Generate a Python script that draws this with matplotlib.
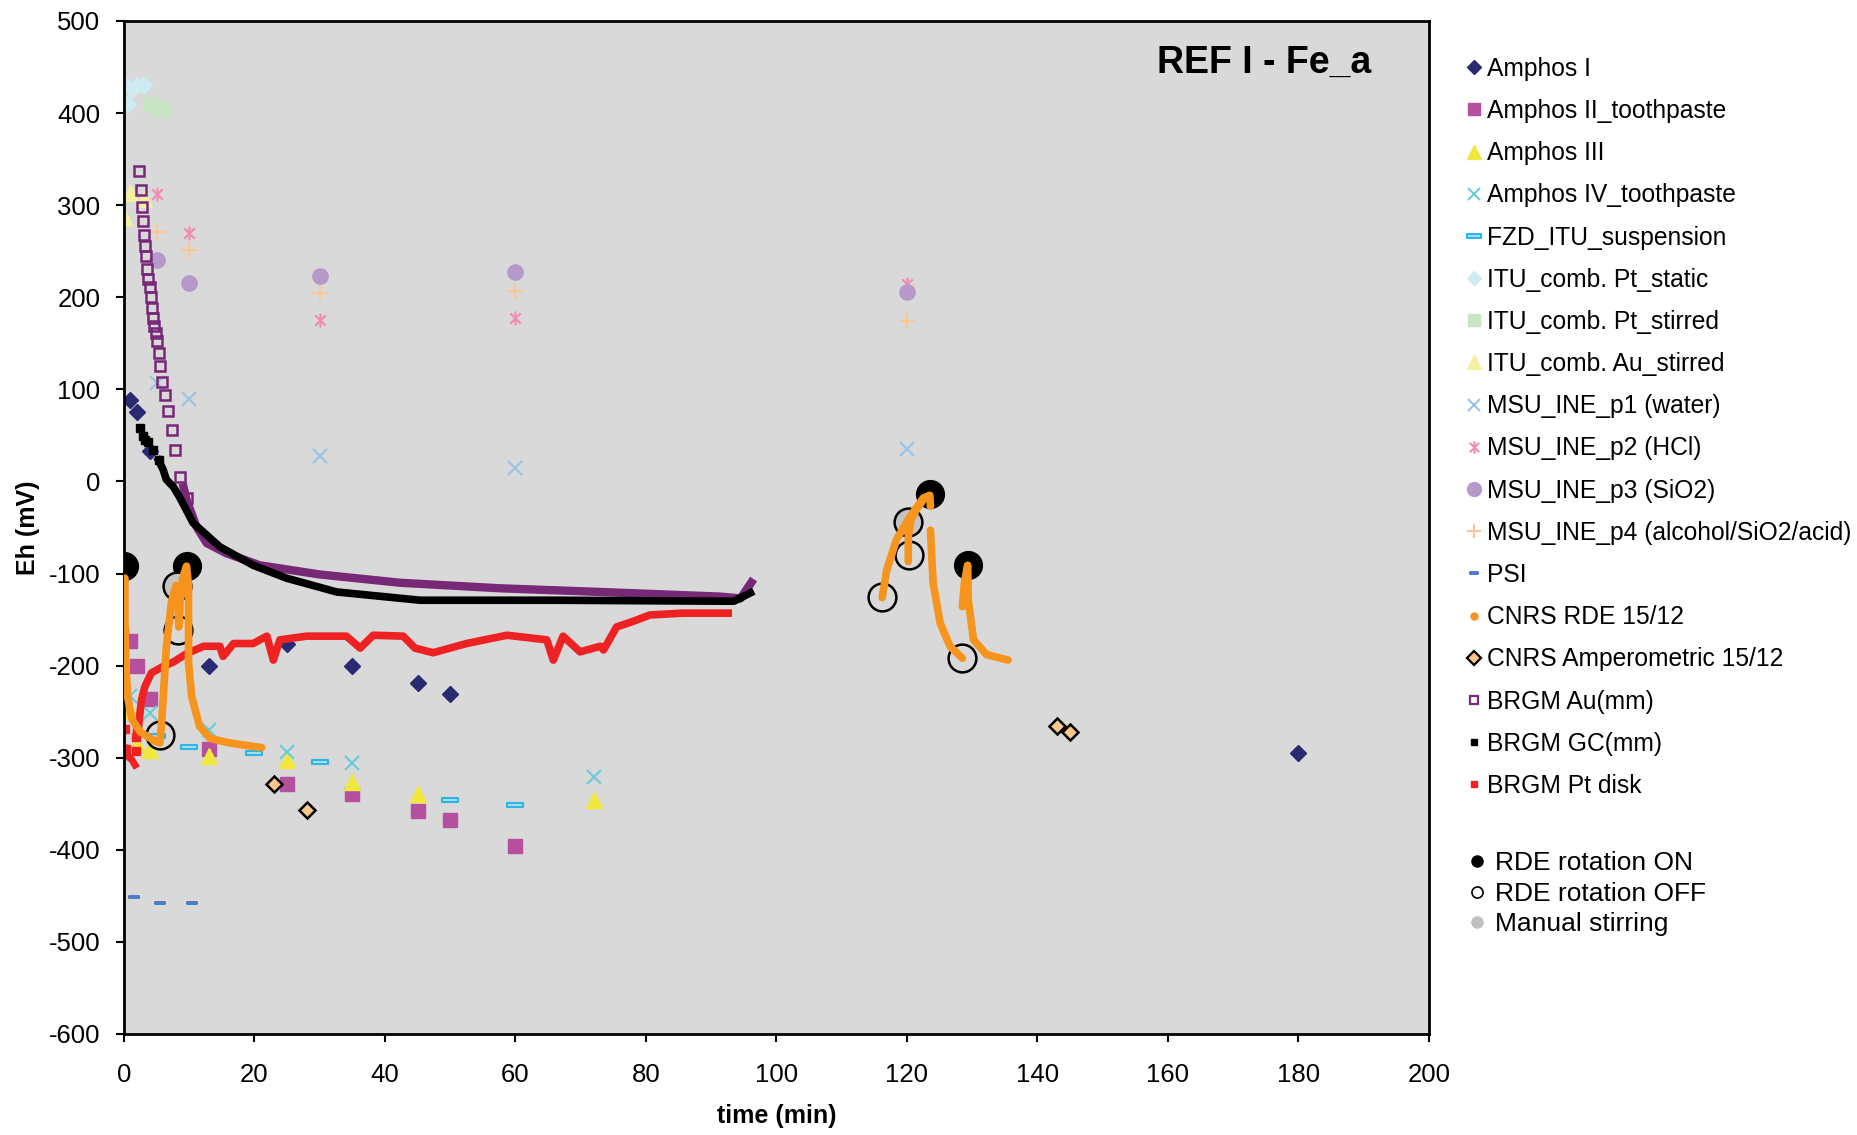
import matplotlib.pyplot as plt
from matplotlib.lines import Line2D
from matplotlib.path import Path

plt.rcParams['font.family'] = ['Liberation Sans', 'DejaVu Sans']
plt.rcParams['axes.unicode_minus'] = False

# ---- data (time in min, Eh in mV) ----
amphos1_t = [1, 2, 4, 13, 25, 35, 45, 50, 180]
amphos1_eh = [88, 75, 33, -200, -176, -200, -219, -231, -295]

amphos2_t = [1, 2, 4, 13, 25, 35, 45, 50, 60]
amphos2_eh = [-173, -200, -236, -290, -328, -339, -358, -368, -396]

amphos3_t = [1, 2, 4, 13, 25, 35, 45, 72]
amphos3_eh = [-249, -285, -292, -298, -302, -326, -339, -346]

amphos4_t = [1, 4, 13, 25, 35, 72]
amphos4_eh = [-233, -251, -270, -294, -306, -321]

fzd_t = [5, 10, 20, 30, 50, 60]
fzd_eh = [-276, -288, -295, -305, -346, -351]

itu_pt_static_t = [0, 0.7, 1.3, 2, 3]
itu_pt_static_eh = [432, 410, 426, 430, 431]

itu_pt_stirred_t = [4, 5, 6]
itu_pt_stirred_eh = [410, 406, 403]

itu_au_stirred_t = [0, 1, 3]
itu_au_stirred_eh = [287, 313, 307]

msu_p1_t = [5, 10, 30, 60, 120]
msu_p1_eh = [107, 90, 28, 15, 35]

msu_p2_t = [5, 10, 30, 60, 120]
msu_p2_eh = [312, 270, 175, 178, 214]

msu_p3_t = [5, 10, 30, 60, 120]
msu_p3_eh = [240, 216, 223, 227, 206]

msu_p4_t = [5, 10, 30, 60, 120]
msu_p4_eh = [271, 251, 205, 207, 174]

psi_t = [1.5, 5.5, 10.5]
psi_eh = [-451, -458, -458]

cnrs_amp_t = [23, 28, 143, 145]
cnrs_amp_eh = [-328, -357, -266, -272]

# CNRS RDE traces (several runs)
rde_runs = [
    ([0.15, 0.15, 0.3, 0.6, 1.2, 2.5, 4.5, 5.5, 5.8, 6.5, 7.3, 8.0, 8.3, 8.4, 8.6, 9.0, 9.6,
      9.9, 9.9, 10.4, 11.6, 13.2, 16.2, 21.1],
     [-105, -150, -200, -235, -258, -272, -281, -284, -260, -180, -130, -113, -130, -158, -130,
      -105, -92, -114, -197, -234, -266, -279, -284, -289]),
    ([116.2, 116.9, 118.4, 120.5, 122.5, 123.5, 123.6],
     [-126, -96, -63, -38, -18, -15, -27]),
    ([120.2, 120.2, 120.6, 121.5, 122.5],
     [-87, -60, -42, -30, -20]),
    ([123.6, 124.0, 125.1, 126.6, 128.5],
     [-53, -110, -154, -179, -192]),
    ([128.5, 128.8, 129.3, 129.4, 130.2, 132.2, 135.5],
     [-136, -110, -91, -129, -172, -188, -194]),
]
rde_on_t = [0, 9.6, 123.6, 129.3]
rde_on_eh = [-92, -92, -14, -91]
rde_off_t = [5.5, 8.3, 116.2, 120.3, 128.5]
rde_off_eh = [-275, -161, -126, -80, -192]
manual_t = [8.1, 120.1]
manual_eh = [-113, -44]

# BRGM Au(mm)
brgm_au_pts_t = [2.35, 2.55, 2.7, 2.86, 3.07, 3.2, 3.37, 3.58, 3.7, 4.0, 4.1, 4.24, 4.5, 4.65,
                 4.85, 5.0, 5.3, 5.5, 5.9, 6.3, 6.8, 7.3, 7.8, 8.6, 9.6]
brgm_au_pts_eh = [337, 317, 298, 283, 268, 256, 245, 231, 220, 211, 200, 188, 178, 169,
                  161, 152, 139, 125, 108, 94, 76, 56, 34, 5, -18]
brgm_au_line_t = [9.0, 9.6, 11.1, 12.7, 15.7, 20.8, 30, 42.3, 57.6, 73, 91.3, 94.5, 96.5]
brgm_au_line_eh = [-2, -20, -49, -67, -78, -91, -101, -110, -116, -120, -125, -127, -106]

# BRGM GC(mm)
brgm_gc_pts_t = [2.45, 2.9, 3.2, 3.7, 4.5, 5.3]
brgm_gc_pts_eh = [58, 49, 45, 43, 34, 23]
brgm_gc_line_t = [5.3, 6.0, 6.5, 7.6, 8.6, 10.6, 14.7, 19.8, 24.9, 32.6, 45.4, 66.8, 91.3, 93.5, 96]
brgm_gc_line_eh = [23, 13, 2, -6, -18, -45, -71, -91, -105, -120, -129, -129, -130, -130, -121]

# BRGM Pt disk
brgm_pt_pts_t = [0, 0.1, 0.2, 0.3, 1.8, 1.9, 2.0]
brgm_pt_pts_eh = [-163, -235, -269, -290, -293, -278, -268]
brgm_pt_tail_t = [0.3, 0.8, 1.2, 1.7]
brgm_pt_tail_eh = [-290, -300, -302, -308]
brgm_pt_line_t = [2.2, 2.35, 2.55, 2.7, 3.2, 4.2, 6, 7.6, 9.6, 12.2, 14.7, 15.2, 16.8, 19.8, 21.9,
                  22.9, 23.9, 28, 34.1, 36.2, 38.2, 42.8, 44.6, 47.4, 52.5, 58.7, 64.8, 65.8,
                  67.3, 69.9, 73, 73.5, 75.5, 78, 80.6, 85.7, 92.6]
brgm_pt_line_eh = [-268, -259, -246, -237, -223, -208, -201, -196, -187, -179, -179, -190, -176,
                   -176, -168, -194, -172, -168, -168, -181, -167, -168, -181, -186, -176, -167,
                   -172, -194, -168, -185, -179, -183, -158, -152, -145, -143, -143]

# ---- colours ----
c_amphos1 = '#2A2A72'
c_amphos2 = '#B4509E'
c_amphos3 = '#F0E83C'
c_amphos4 = '#6CCDD8'
c_fzd = '#2FB4E6'
c_static = '#CDEBF0'
c_stirred = '#C8E6C3'
c_au = '#F5F0A0'
c_p1 = '#9DC3E6'
c_p2 = '#F28CB4'
c_p3 = '#B59AC9'
c_p4 = '#FAC896'
c_psi = '#4472C4'
c_rde = '#F7941D'
c_amp = '#FAC88C'
c_au_brgm = '#772877'
c_pt = '#EE2222'

asterisk = Path([(0, -1), (0, 1), (-0.75, -0.75), (0.75, 0.75), (-0.75, 0.75), (0.75, -0.75)],
                [Path.MOVETO, Path.LINETO, Path.MOVETO, Path.LINETO, Path.MOVETO, Path.LINETO])
dash = Path([(-1, -0.28), (1, -0.28), (1, 0.28), (-1, 0.28), (-1, -0.28)],
            [Path.MOVETO, Path.LINETO, Path.LINETO, Path.LINETO, Path.CLOSEPOLY])

fig = plt.figure(figsize=(18.58, 11.35), dpi=100)
ax = fig.add_axes([0.0667, 0.089, 0.7024, 0.8925])
ax.set_facecolor('#D9D9D9')

ax.plot(amphos1_t, amphos1_eh, 'D', color=c_amphos1, ms=8, zorder=2)
ax.plot(amphos2_t, amphos2_eh, 's', color=c_amphos2, ms=10, zorder=2)
ax.plot(amphos3_t, amphos3_eh, '^', color=c_amphos3, ms=11, zorder=2)
ax.plot(amphos4_t, amphos4_eh, 'x', color=c_amphos4, ms=10, mew=1.6, zorder=2)
ax.plot(fzd_t, fzd_eh, ls='none', marker=dash, ms=11, mfc='#A8E0F5', mec=c_fzd, mew=1.5, zorder=2)
ax.plot(itu_pt_static_t, itu_pt_static_eh, 'D', color=c_static, ms=8, zorder=2)
ax.plot(itu_pt_stirred_t, itu_pt_stirred_eh, 's', color=c_stirred, ms=10, zorder=2)
ax.plot(itu_au_stirred_t, itu_au_stirred_eh, '^', color=c_au, ms=11, zorder=2)
ax.plot(msu_p1_t, msu_p1_eh, 'x', color=c_p1, ms=10, mew=1.6, zorder=2)
ax.plot(msu_p2_t, msu_p2_eh, ls='none', marker=asterisk, ms=10, mfc='none', mec=c_p2, mew=1.6, zorder=2)
ax.plot(msu_p3_t, msu_p3_eh, 'o', color=c_p3, ms=11, zorder=2)
ax.plot(msu_p4_t, msu_p4_eh, '+', color=c_p4, ms=11, mew=1.6, zorder=2)
ax.plot(psi_t, psi_eh, ls='none', marker=dash, ms=7, mfc='#BFD0F0', mec=c_psi, mew=1.3, zorder=2)
ax.plot(cnrs_amp_t, cnrs_amp_eh, 'D', mfc=c_amp, mec='black', ms=8, mew=1.8, zorder=2)

# BRGM
ax.plot(brgm_au_line_t, brgm_au_line_eh, '-', color=c_au_brgm, lw=6, solid_capstyle='butt', zorder=2)
ax.plot(brgm_au_pts_t, brgm_au_pts_eh, 's', mfc='none', mec=c_au_brgm, ms=7, mew=1.8, zorder=2)
ax.plot(brgm_gc_line_t, brgm_gc_line_eh, '-', color='black', lw=5.5, zorder=2.1)
ax.plot(brgm_gc_pts_t, brgm_gc_pts_eh, 's', color='black', ms=6, zorder=2.1)
ax.plot(brgm_pt_line_t, brgm_pt_line_eh, '-', color=c_pt, lw=5.5, zorder=2.2)
ax.plot(brgm_pt_tail_t, brgm_pt_tail_eh, '-', color=c_pt, lw=5, zorder=2.2)
ax.plot(brgm_pt_pts_t, brgm_pt_pts_eh, 's', color=c_pt, ms=6, zorder=2.2)

# CNRS RDE
ax.plot(rde_on_t, rde_on_eh, 'o', color='black', ms=20, zorder=3)
ax.plot(rde_off_t, rde_off_eh, 'o', mfc='none', mec='black', ms=20, mew=1.8, zorder=3)
ax.plot(manual_t, manual_eh, 'o', mfc='#C4C4C4', mec='black', ms=20, mew=1.8, zorder=3)
for run_t, run_eh in rde_runs:
    ax.plot(run_t, run_eh, '-', color=c_rde, lw=5.5, solid_capstyle='round',
            solid_joinstyle='round', zorder=4)

ax.set_xlim(0, 200)
ax.set_ylim(-600, 500)
ax.set_xticks(range(0, 201, 20))
ax.set_yticks(range(-600, 501, 100))
ax.tick_params(direction='out', length=6, width=1.5, labelsize=18.5)
ax.tick_params(axis='x', pad=15)
ax.tick_params(axis='y', pad=11)
for sp in ax.spines.values():
    sp.set_linewidth(2)
ax.set_xlabel('time (min)', fontsize=18, fontweight='bold', labelpad=12)
ax.set_ylabel('Eh (mV)', fontsize=18, fontweight='bold', labelpad=6)
ax.text(0.9556, 0.959, 'REF I - Fe_a', transform=ax.transAxes, ha='right', va='center',
        fontsize=27, fontweight='bold')

# legends
h1 = [
    Line2D([], [], ls='none', marker='D', color=c_amphos1, ms=7),
    Line2D([], [], ls='none', marker='s', color=c_amphos2, ms=9),
    Line2D([], [], ls='none', marker='^', color=c_amphos3, ms=10),
    Line2D([], [], ls='none', marker='x', color=c_amphos4, ms=9, mew=1.5),
    Line2D([], [], ls='none', marker=dash, ms=10, mfc='#A8E0F5', mec=c_fzd, mew=1.5),
    Line2D([], [], ls='none', marker='D', color=c_static, ms=7),
    Line2D([], [], ls='none', marker='s', color=c_stirred, ms=9),
    Line2D([], [], ls='none', marker='^', color=c_au, ms=10),
    Line2D([], [], ls='none', marker='x', color=c_p1, ms=9, mew=1.5),
    Line2D([], [], ls='none', marker=asterisk, ms=9, mfc='none', mec=c_p2, mew=1.5),
    Line2D([], [], ls='none', marker='o', color=c_p3, ms=10),
    Line2D([], [], ls='none', marker='+', color=c_p4, ms=10, mew=1.5),
    Line2D([], [], ls='none', marker=dash, ms=6, mfc='#BFD0F0', mec=c_psi, mew=1.3),
    Line2D([], [], ls='none', marker='o', color=c_rde, ms=5),
    Line2D([], [], ls='none', marker='D', mfc=c_amp, mec='black', ms=7, mew=1.6),
    Line2D([], [], ls='none', marker='s', mfc='none', mec=c_au_brgm, ms=6, mew=1.6),
    Line2D([], [], ls='none', marker='s', color='black', ms=5),
    Line2D([], [], ls='none', marker='s', color=c_pt, ms=5),
]
labels1 = ['Amphos I', 'Amphos II_toothpaste', 'Amphos III', 'Amphos IV_toothpaste',
           'FZD_ITU_suspension', 'ITU_comb. Pt_static', 'ITU_comb. Pt_stirred',
           'ITU_comb. Au_stirred', 'MSU_INE_p1 (water)', 'MSU_INE_p2 (HCl)',
           'MSU_INE_p3 (SiO2)', 'MSU_INE_p4 (alcohol/SiO2/acid)', 'PSI', 'CNRS RDE 15/12',
           'CNRS Amperometric 15/12', 'BRGM Au(mm)', 'BRGM GC(mm)', 'BRGM Pt disk']
fig.legend(h1, labels1, loc='upper left', bbox_to_anchor=(0.788, 0.950),
           frameon=False, fontsize=17.7, handlelength=0.8, handletextpad=0.15,
           labelspacing=0.74, borderpad=0, borderaxespad=0)

h2 = [
    Line2D([], [], ls='none', marker='o', color='black', ms=8),
    Line2D([], [], ls='none', marker='o', mfc='white', mec='black', ms=8, mew=1.2),
    Line2D([], [], ls='none', marker='o', mfc='#C0C0C0', mec='#C0C0C0', ms=8),
]
labels2 = ['RDE rotation ON', 'RDE rotation OFF', 'Manual stirring']
fig.legend(h2, labels2, loc='upper left', bbox_to_anchor=(0.789, 0.250),
           frameon=False, fontsize=19, handlelength=0.8, handletextpad=0.3,
           labelspacing=0.25, borderpad=0, borderaxespad=0)

fig.savefig('out.png', dpi=100)
